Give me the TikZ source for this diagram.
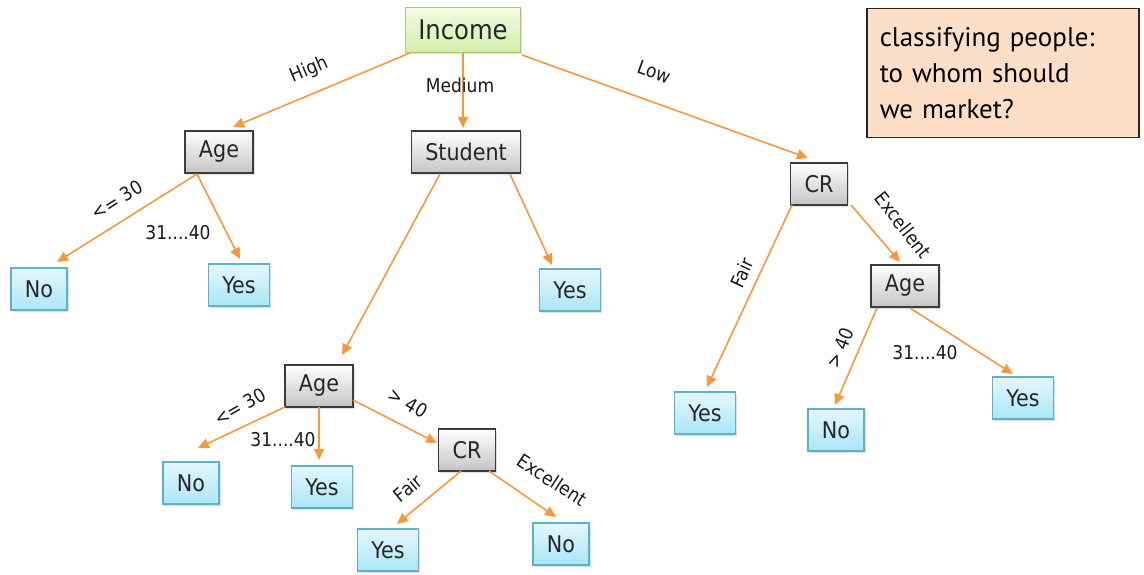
\documentclass[tikz,border=0pt]{standalone}
\usepackage{fontspec}
\setmainfont{DejaVu Sans Condensed}
\newfontfamily\boxfont{PT Sans}
\usetikzlibrary{arrows.meta,shadows,calc}
\definecolor{arr}{RGB}{245,152,62}
\definecolor{gborder}{RGB}{60,60,60}
\definecolor{gbot}{RGB}{196,196,196}
\definecolor{lborder}{RGB}{90,178,204}
\definecolor{ltop}{RGB}{228,247,252}
\definecolor{lbot}{RGB}{170,230,246}
\definecolor{iborder}{RGB}{168,200,112}
\definecolor{itop}{RGB}{244,251,226}
\definecolor{ibot}{RGB}{210,237,172}
\definecolor{notefill}{RGB}{253,223,200}
\begin{document}
\begin{tikzpicture}[x=1pt,y=-1pt,
  base/.style={draw, line width=1.2pt, minimum height=42pt, inner xsep=14pt, inner ysep=0pt,
    font=\fontsize{23}{27}\selectfont, text=black!85,
    drop shadow={shadow xshift=1.5pt, shadow yshift=-2pt, opacity=0.25}},
  gbox/.style={base, draw=gborder, top color=white, bottom color=gbot},
  leaf/.style={base, draw=lborder, top color=ltop, bottom color=lbot},
  inc/.style={base, draw=iborder, top color=itop, bottom color=ibot, minimum height=45pt,
    inner xsep=13pt, font=\fontsize{27}{31}\selectfont},
  note/.style={draw=black!85, line width=1.5pt, fill=notefill, align=left, anchor=north west,
    minimum width=272pt, minimum height=129pt, text width=246pt, inner xsep=13pt,
    font=\boxfont\fontsize{27}{36}\selectfont},
  lab/.style={font=\fontsize{19}{22}\selectfont, inner sep=0pt, text=black!90},
  edge/.style={draw=arr, line width=1.6pt, -{Triangle[length=11pt,width=10pt]}}]
\useasboundingbox (0,0) rectangle (1144,575);
% nodes
\node[inc] (inc) at (463,30) {Income};
\node[gbox] (age1) at (219,152) {Age};
\node[gbox] (stu) at (466,152) {Student};
\node[gbox] (cr1) at (819,184) {CR};
\node[leaf] (no1) at (39,289) {No};
\node[leaf] (yes1) at (239,285) {Yes};
\node[leaf] (yes2) at (570,290) {Yes};
\node[gbox] (age2) at (905,286) {Age};
\node[leaf] (yes3) at (705,413) {Yes};
\node[leaf] (no3) at (836,430) {No};
\node[leaf] (yes4) at (1023,398) {Yes};
\node[gbox] (age3) at (319,386) {Age};
\node[leaf] (no2) at (191,483) {No};
\node[leaf] (yes5) at (322,487) {Yes};
\node[gbox] (cr2) at (467,450) {CR};
\node[leaf] (yes6) at (388,550) {Yes};
\node[leaf] (no4) at (561,544) {No};
\node[note] (note) at (866,8) {classifying people:\\to whom should\\we market?};
% edges
\draw[edge] ($(inc)+(-53,23)$) -- ($(age1)+(14,-25)$);
\draw[edge] ($(inc)+(0,23)$) -- ($(stu)+(-3,-24)$);
\draw[edge] ($(inc)+(59,25)$) -- ($(cr1)+(-11,-26)$);
\draw[edge] ($(age1)+(-22,22)$) -- ($(no1)+(18,-27)$);
\draw[edge] ($(age1)+(-22,22)$) -- ($(yes1)+(1,-26)$);
\draw[edge] ($(stu)+(-26,22)$) -- ($(age3)+(23,-31)$);
\draw[edge] ($(stu)+(44,22)$) -- ($(yes2)+(-18,-25)$);
\draw[edge] ($(cr1)+(-27,21)$) -- ($(yes3)+(2,-26)$);
\draw[edge] ($(cr1)+(32,21)$) -- ($(age2)+(-5,-24)$);
\draw[edge] ($(age2)+(-28,22)$) -- ($(no3)+(-1,-25)$);
\draw[edge] ($(age2)+(5,22)$) -- ($(yes4)+(-10,-24)$);
\draw[edge] ($(age3)+(-34,21)$) -- ($(no2)+(7,-35)$);
\draw[edge] ($(age3)+(0,21)$) -- ($(yes5)+(-3,-27)$);
\draw[edge] ($(age3)+(34,14)$) -- ($(cr2)+(-30,-7)$);
\draw[edge] ($(cr2)+(-6,21)$) -- ($(yes6)+(9,-26)$);
\draw[edge] ($(cr2)+(22,21)$) -- ($(no4)+(-5,-27)$);
% labels
\node[lab, rotate=23] (lhigh) at (309,70) {High};
\node[lab] (lmed) at (460,85) {Medium};
\node[lab, rotate=-20] (llow) at (654,72) {Low};
\node[lab, rotate=32] (l1) at (117,200) {<= 30};
\node[lab] (l2) at (178,233) {31....40};
\node[lab, rotate=65] (l3) at (742,273) {Fair};
\node[lab, rotate=-52] (l4) at (903,225) {Excellent};
\node[lab, rotate=68] (l5) at (840,348) {> 40};
\node[lab] (l6) at (925,353) {31....40};
\node[lab, rotate=30] (l7) at (240,407) {<= 30};
\node[lab] (l8) at (283,440) {31....40};
\node[lab, rotate=-30] (l9) at (408,403) {> 40};
\node[lab, rotate=40] (l10) at (408,488) {Fair};
\node[lab, rotate=-33] (l11) at (552,480) {Excellent};
\end{tikzpicture}
\end{document}
